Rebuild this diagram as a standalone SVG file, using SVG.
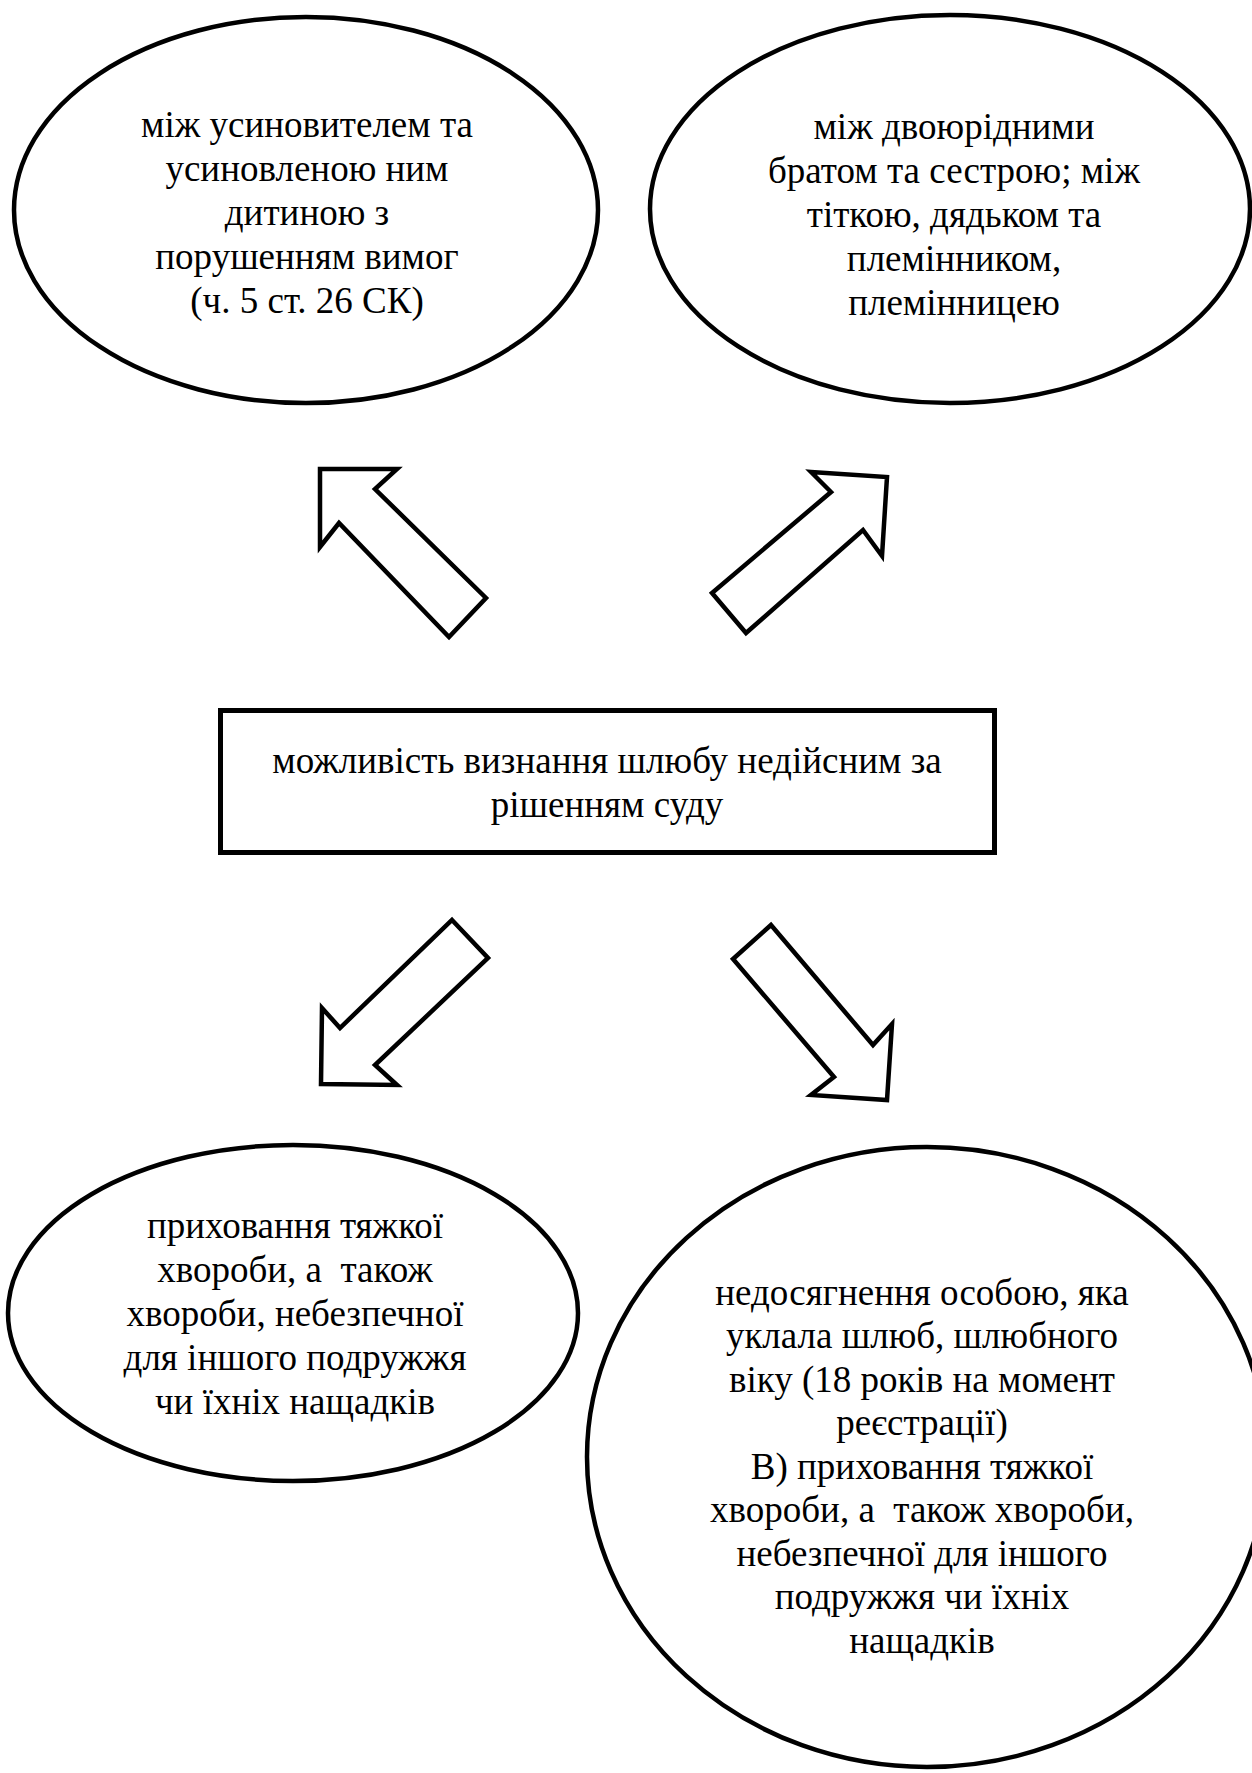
<svg xmlns="http://www.w3.org/2000/svg" width="1252" height="1773" viewBox="0 0 1252 1773">
<style>
.shape{fill:#fff;stroke:#000;stroke-width:4.5}
.box{fill:#fff;stroke:#000;stroke-width:5}
.arrow{fill:#fff;stroke:#000;stroke-width:4.5;stroke-linejoin:miter}
.t{font-family:"Liberation Serif","Times New Roman",serif;font-size:37px;fill:#000;text-anchor:middle;white-space:pre}
</style>
<rect width="1252" height="1773" fill="#fff"/>
<g id="connectors">
<polygon class="arrow" points="320,469 397,469 375,489 486,598 449,637 339,523 320,547"/>
<polygon class="arrow" points="811,472 887,477 882,556 863,530 746,633 712,593 831,492"/>
<polygon class="arrow" points="452,920 488,958 375,1065 397,1085 321,1084 322,1008 340,1028"/>
<polygon class="arrow" points="771,925 733,959 834,1077 811,1095 887,1100 892,1024 873,1045"/>
</g>
<g id="node-adoptive">
<ellipse class="shape" cx="306" cy="210" rx="292" ry="193"/>
<text class="t" x="307" y="137">між усиновителем та</text>
<text class="t" x="307" y="181">усиновленою ним</text>
<text class="t" x="307" y="225">дитиною з</text>
<text class="t" x="307" y="269">порушенням вимог</text>
<text class="t" x="307" y="313">(ч. 5 ст. 26 СК)</text>
</g>
<g id="node-cousins">
<ellipse class="shape" cx="950" cy="209" rx="300" ry="194"/>
<text class="t" x="954" y="139">між двоюрідними</text>
<text class="t" x="954" y="183">братом та сестрою; між</text>
<text class="t" x="954" y="227">тіткою, дядьком та</text>
<text class="t" x="954" y="271">племінником,</text>
<text class="t" x="954" y="315">племінницею</text>
</g>
<g id="node-center">
<rect class="box" x="220.5" y="710.5" width="774" height="142"/>
<text class="t" x="607" y="773">можливість визнання шлюбу недійсним за</text>
<text class="t" x="607" y="817">рішенням суду</text>
</g>
<g id="node-disease">
<ellipse class="shape" cx="293" cy="1313" rx="285" ry="168"/>
<text class="t" x="295" y="1238">приховання тяжкої</text>
<text class="t" x="295" y="1282">хвороби, а  також</text>
<text class="t" x="295" y="1326">хвороби, небезпечної</text>
<text class="t" x="295" y="1370">для іншого подружжя</text>
<text class="t" x="295" y="1414">чи їхніх нащадків</text>
</g>
<g id="node-age">
<ellipse class="shape" cx="927" cy="1457" rx="340" ry="310"/>
<text class="t" x="922" y="1305">недосягнення особою, яка</text>
<text class="t" x="922" y="1348">уклала шлюб, шлюбного</text>
<text class="t" x="922" y="1392">віку (18 років на момент</text>
<text class="t" x="922" y="1435">реєстрації)</text>
<text class="t" x="922" y="1479">В) приховання тяжкої</text>
<text class="t" x="922" y="1522">хвороби, а  також хвороби,</text>
<text class="t" x="922" y="1566">небезпечної для іншого</text>
<text class="t" x="922" y="1609">подружжя чи їхніх</text>
<text class="t" x="922" y="1653">нащадків</text>
</g>
</svg>
